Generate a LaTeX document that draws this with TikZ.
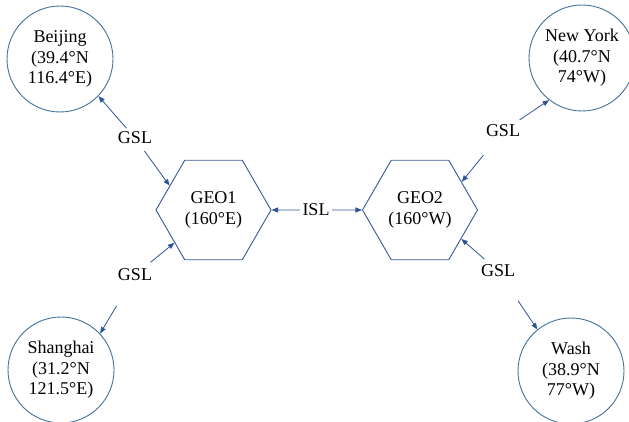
\documentclass[tikz,border=0pt]{standalone}
\usepackage{fontspec}
\setmainfont{Liberation Serif}
\usetikzlibrary{arrows.meta,shapes.geometric,calc}
\definecolor{rimblue}{RGB}{65,113,156}
\definecolor{hexblue}{RGB}{52,88,150}
\definecolor{linkblue}{RGB}{47,85,151}
\begin{document}
\begin{tikzpicture}[x=1pt,y=-1pt,
  city/.style={circle,draw=rimblue,line width=0.9pt,fill=white,
    minimum size=106pt,inner sep=0pt,align=center,
    font=\fontsize{18}{20.5}\selectfont},
  sat/.style={regular polygon,regular polygon sides=6,draw=hexblue,
    line width=0.9pt,minimum size=115pt,inner sep=0pt,align=center,
    font=\fontsize{18}{20.5}\selectfont},
  linklabel/.style={inner sep=0pt,font=\fontsize{18}{20}\selectfont},
  link/.style={draw=linkblue,line width=0.8pt,
    -{Triangle[length=6.5pt,width=5pt]}}
]
\useasboundingbox (0,0) rectangle (629,422);

% ground stations
\node[city] (bj) at (60,59)   {Beijing\\(39.4°N\\116.4°E)};
\node[city] (sh) at (61,370)  {Shanghai\\(31.2°N\\121.5°E)};
\node[city] (ny) at (582,58)  {New York\\(40.7°N\\74°W)};
\node[city] (wa) at (571,371) {Wash\\(38.9°N\\77°W)};

% geostationary satellites
\node[sat] (geo1) at (213.5,210) {GEO1\\(160°E)};
\node[sat] (geo2) at (420,210)   {GEO2\\(160°W)};

% link labels
\node[linklabel] (gslbj) at (135,138) {GSL};
\node[linklabel] (gslsh) at (135,275) {GSL};
\node[linklabel] (gslny) at (503,131) {GSL};
\node[linklabel] (gslwa) at (498,271) {GSL};
\node[linklabel] (isl) at (316,210) {ISL};

% ground-satellite links
\draw[link] ($(gslbj)!13pt!(bj.-44)$) -- (bj.-44);
\draw[link] ($(gslbj)!16pt!(geo1.151)$) -- (geo1.151);
\draw[link] ($(gslsh)!20pt!(geo1.-140)$) -- (geo1.-140);
\draw[link] ($(gslsh)!36pt!(sh.43)$) -- (sh.43);
\draw[link] ($(gslny)!20pt!(ny.-128)$) -- (ny.-128);
\draw[link] ($(gslny)!31pt!(geo2.34)$) -- (geo2.34);
\draw[link] ($(gslwa)!18pt!(geo2.-35)$) -- (geo2.-35);
\draw[link] ($(gslwa)!36pt!(wa.129)$) -- (wa.129);

% inter-satellite link
\draw[link] ($(isl)!16pt!(geo1.east)$) -- (geo1.east);
\draw[link] ($(isl)!16pt!(geo2.west)$) -- (geo2.west);
\end{tikzpicture}
\end{document}
